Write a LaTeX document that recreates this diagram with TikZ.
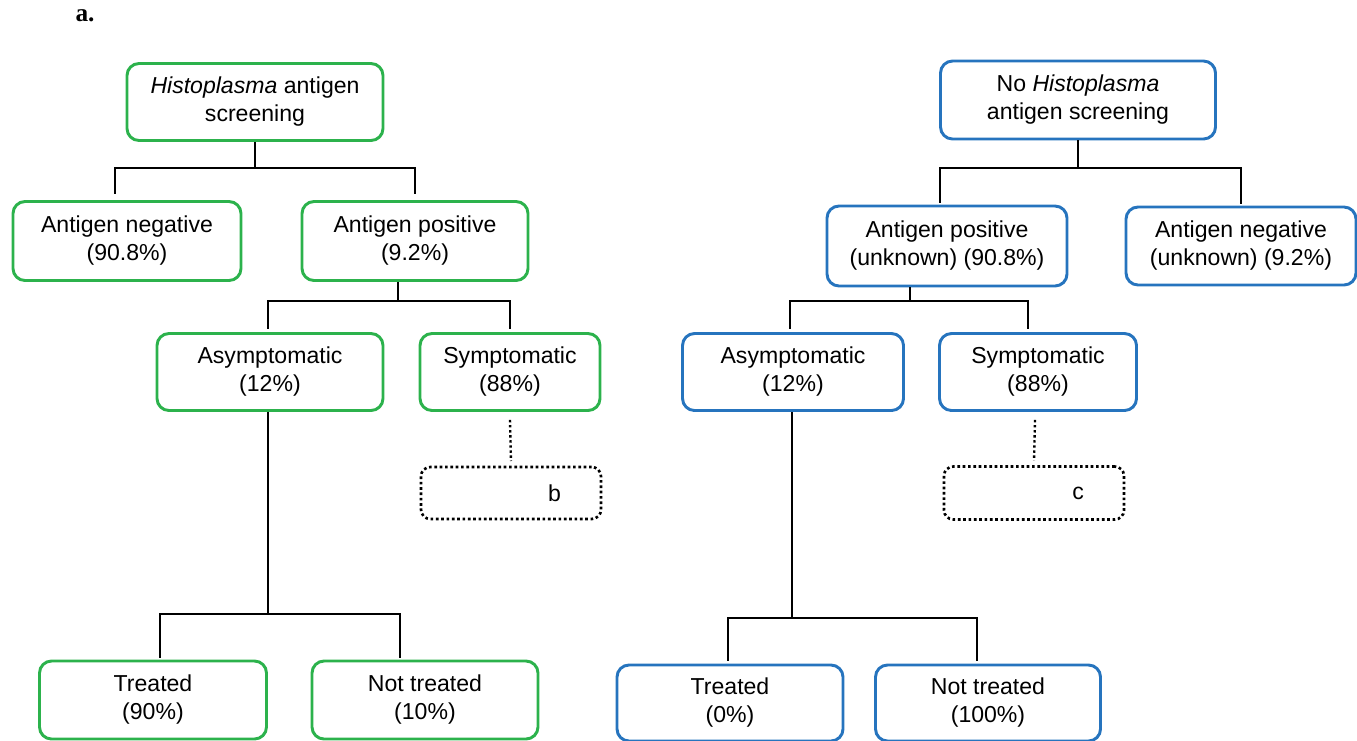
\documentclass[tikz,border=0pt]{standalone}
\usepackage{fontspec}
\setmainfont{Liberation Sans}
\newfontfamily\serifbf{Liberation Serif}
\definecolor{boxgreen}{RGB}{44,178,76}
\definecolor{boxblue}{RGB}{38,116,190}
\tikzset{
  box/.style={draw, rounded corners=9pt, line width=2.2pt, align=center,
    inner sep=0pt, font=\fontsize{17.3}{21}\selectfont},
  gbox/.style={box, draw=boxgreen},
  bbox/.style={box, draw=boxblue},
  sz/.style 2 args={minimum width=#1, minimum height=#2},
  dotbox/.style={draw, rounded corners=7pt, line width=2pt, dotted,
    font=\fontsize{17.3}{21}\selectfont, inner ysep=0pt, inner xsep=30pt,
    text width=75pt, align=right},
  conn/.style={line width=1.5pt, black},
  dconn/.style={line width=1.8pt, black, dotted}
}
\begin{document}
\begin{tikzpicture}[x=0.75pt, y=-0.75pt]
\useasboundingbox (0,0) rectangle (1357,740);
\node[font=\serifbf\bfseries\fontsize{19}{22}\selectfont] (lab) at (85,16) {a.};
% left tree
\node[gbox, sz={192pt}{57.75pt}] (L0) at (255,102) {\textit{Histoplasma} antigen\\screening};
\node[gbox, sz={171pt}{59.25pt}] (L1neg) at (127,241) {Antigen negative\\(90.8\%)};
\node[gbox, sz={169.5pt}{59.25pt}] (L1pos) at (415,241) {Antigen positive\\(9.2\%)};
\node[gbox, sz={169.5pt}{57.75pt}] (L2asy) at (270,372) {Asymptomatic\\(12\%)};
\node[gbox, sz={135pt}{57.75pt}] (L2sym) at (510,372) {Symptomatic\\(88\%)};
\node[dotbox, minimum height=39pt] (Lb) at (511,493) {b};
\node[gbox, sz={170.25pt}{58.5pt}] (L3t) at (153,700) {Treated\\(90\%)};
\node[gbox, sz={169.5pt}{58.5pt}] (L3n) at (425,700) {Not treated\\(10\%)};
% right tree
\node[bbox, sz={206.25pt}{58.5pt}] (R0) at (1078,100) {No \textit{Histoplasma}\\antigen screening};
\node[bbox, sz={180pt}{60pt}] (R1pos) at (947,246) {Antigen positive\\(unknown) (90.8\%)};
\node[bbox, sz={172.5pt}{58.5pt}] (R1neg) at (1241,246) {Antigen negative\\(unknown) (9.2\%)};
\node[bbox, sz={165.75pt}{57.75pt}] (R2asy) at (793,372) {Asymptomatic\\(12\%)};
\node[bbox, sz={147.75pt}{57.75pt}] (R2sym) at (1038,372) {Symptomatic\\(88\%)};
\node[dotbox, minimum height=39.75pt] (Rc) at (1034,493) {c};
\node[bbox, sz={169.5pt}{57pt}] (R3t) at (730,703) {Treated\\(0\%)};
\node[bbox, sz={168.75pt}{57pt}] (R3n) at (988,703) {Not treated\\(100\%)};
% left connectors
\draw[conn] (L0.south) -- ++(0,26) coordinate (jL1);
\draw[conn] (jL1) -| ([xshift=-9pt,yshift=4.5pt]L1neg.north);
\draw[conn] (jL1) -| ([yshift=4.5pt]L1pos.north);
\draw[conn] ([xshift=-12.75pt]L1pos.south) -- ++(0,19) coordinate (jL2);
\draw[conn] (jL2) -| ([xshift=-1.5pt,yshift=2.25pt]L2asy.north);
\draw[conn] (jL2) -| ([yshift=2.25pt]L2sym.north);
\draw[conn] ([xshift=-1.5pt]L2asy.south) -- ++(0,202) coordinate (jL3);
\draw[conn] (jL3) -| ([xshift=5.25pt,yshift=1.5pt]L3t.north);
\draw[conn] (jL3) -| ([xshift=-18.75pt,yshift=1.5pt]L3n.north);
\draw[dconn] ([yshift=-6pt]L2sym.south) -- ([yshift=3.5pt]Lb.north);
% right connectors
\draw[conn] (R0.south) -- ++(0,28) coordinate (jR1);
\draw[conn] (jR1) -| ([xshift=-5.25pt,yshift=1.5pt]R1pos.north);
\draw[conn] (jR1) -| ([yshift=1.5pt]R1neg.north);
\draw[conn] ([xshift=-27.75pt]R1pos.south) -- ++(0,14) coordinate (jR2);
\draw[conn] (jR2) -| ([xshift=-2.25pt,yshift=2.25pt]R2asy.north);
\draw[conn] (jR2) -| ([xshift=-7.5pt,yshift=2.25pt]R2sym.north);
\draw[conn] ([xshift=-0.75pt]R2asy.south) -- ++(0,206) coordinate (jR3);
\draw[conn] (jR3) -| ([xshift=-1.5pt,yshift=2pt]R3t.north);
\draw[conn] (jR3) -| ([xshift=-8.25pt,yshift=2pt]R3n.north);
\draw[dconn] ([xshift=-2.25pt,yshift=-6pt]R2sym.south) -- ([yshift=3.5pt]Rc.north);
\end{tikzpicture}
\end{document}
